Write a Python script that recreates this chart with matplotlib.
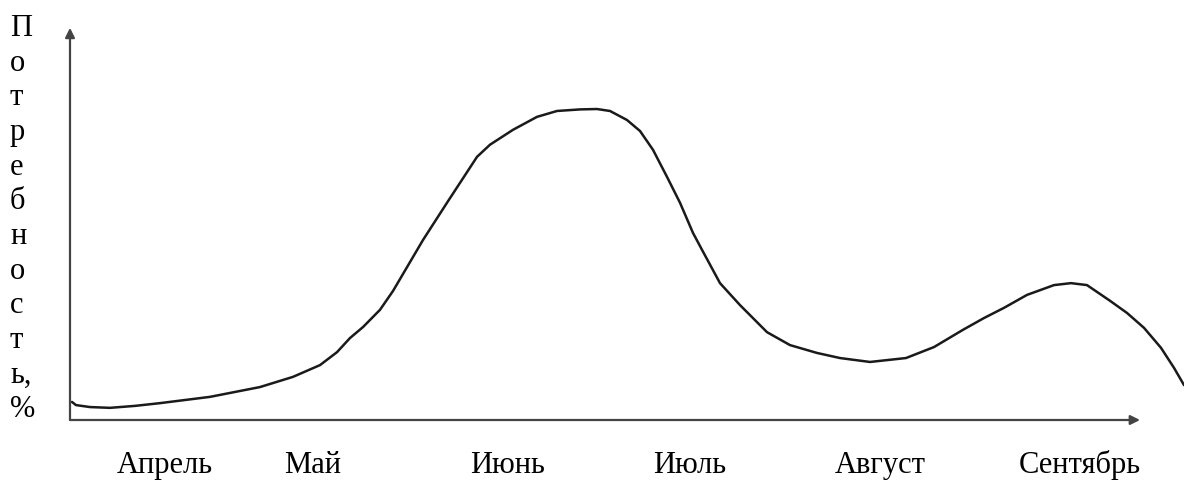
import matplotlib
matplotlib.use('Agg')
import matplotlib.pyplot as plt

#month labels and their place along the x axis
months = ['Апрель', 'Май', 'Июнь', 'Июль', 'Август', 'Сентябрь']
month_pos = [9.5, 24.3, 43.8, 62.0, 81.0, 101.0]

#need curve, x along the axis, y in %
x = [0.2, 0.6, 2.0, 4.0, 6.5, 9.0, 14.0, 19.0, 22.3, 25.0,
     26.7, 28.0, 29.3, 31.0, 32.3, 35.3, 37.7, 40.7, 42.0, 44.3,
     46.7, 48.7, 51.0, 52.7, 54.0, 55.7, 57.0, 58.3, 59.7, 61.0,
     62.3, 63.2, 65.0, 67.0, 69.7, 72.0, 74.7, 77.0, 80.0, 83.6,
     86.4, 89.3, 91.4, 93.4, 95.7, 98.4, 100.1, 101.7, 104.0, 105.7,
     107.4, 109.1, 110.4, 111.4]
y = [4.6, 3.8, 3.3, 3.1, 3.6, 4.3, 5.9, 8.4, 11.0, 14.0,
     17.3, 20.9, 23.7, 28.1, 32.9, 45.9, 55.4, 67.1, 70.2, 74.0,
     77.3, 78.8, 79.2, 79.3, 78.8, 76.5, 73.7, 68.9, 62.0, 55.4,
     47.7, 43.4, 34.9, 29.3, 22.4, 19.1, 17.1, 15.8, 14.8, 15.8,
     18.6, 23.0, 26.0, 28.6, 31.9, 34.4, 34.9, 34.4, 30.4, 27.3,
     23.5, 18.4, 13.3, 8.9]

ylabel = 'Потребность,%'

fig = plt.figure(figsize=(11.84, 4.9), dpi=100)
ax = fig.add_axes([70/1184, 70/490, 1114/1184, 420/490])
ax.set_xlim(0, 111.4)
ax.set_ylim(0, 107.1)
ax.axis('off')

serif = ['Liberation Serif', 'DejaVu Serif']
ax_col = '#444444'

#axes with arrows
ax.annotate('', xy=(0, 100), xytext=(0, 0),
            arrowprops=dict(arrowstyle='-|>', color=ax_col, lw=1.6,
                            mutation_scale=14, shrinkA=0, shrinkB=0))
ax.annotate('', xy=(107, 0), xytext=(0, 0),
            arrowprops=dict(arrowstyle='-|>', color=ax_col, lw=1.6,
                            mutation_scale=14, shrinkA=0, shrinkB=0))

#curve
ax.plot(x, y, color='#1a1a1a', lw=1.8, clip_on=False,
        solid_capstyle='round', solid_joinstyle='round')

#month labels
for m, p in zip(months, month_pos):
    ax.text(p, -11.6, m, ha='center', va='center', fontsize=22,
            family=serif, clip_on=False)

#vertical stacked label, one letter per line
lab = '\n'.join(['П', 'о', 'т', 'р', 'е', 'б', 'н', 'о', 'с', 'т', 'ь,', '%'])
fig.text(10/1184, 1 - 14/490, lab, ha='left', va='top', fontsize=22,
         family=serif, linespacing=1.257, multialignment='left')

fig.savefig('out.png', dpi=100, facecolor='white')
